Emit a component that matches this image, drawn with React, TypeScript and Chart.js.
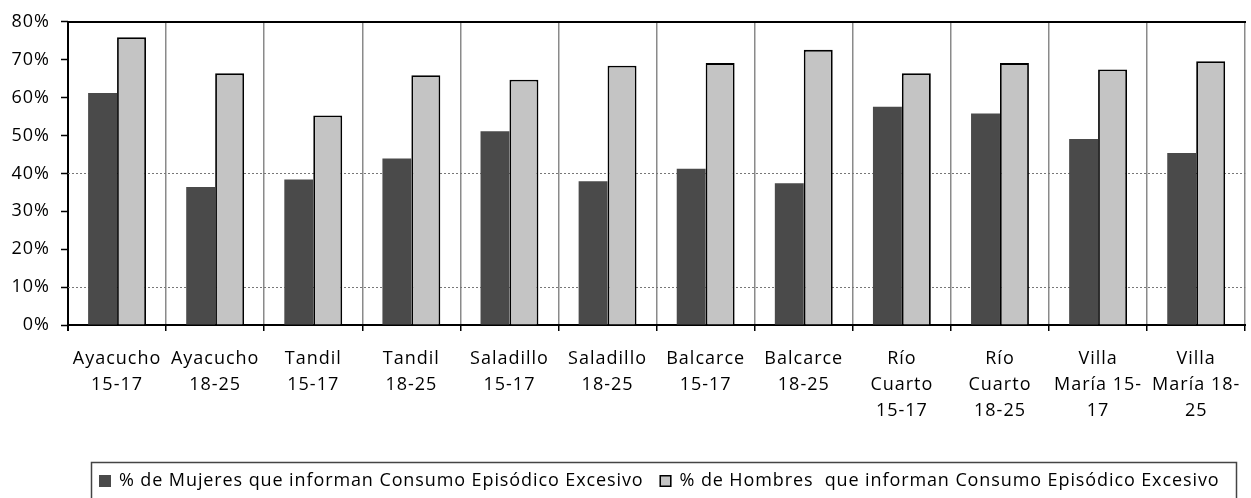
import { useEffect, useRef } from "react";
import { Chart, registerables } from "chart.js";

Chart.register(...registerables);

const categories: string[][] = [
  ["Ayacucho", "15-17"],
  ["Ayacucho", "18-25"],
  ["Tandil", "15-17"],
  ["Tandil", "18-25"],
  ["Saladillo", "15-17"],
  ["Saladillo", "18-25"],
  ["Balcarce", "15-17"],
  ["Balcarce", "18-25"],
  ["Río", "Cuarto", "15-17"],
  ["Río", "Cuarto", "18-25"],
  ["Villa", "María 15-", "17"],
  ["Villa", "María 18-", "25"],
];

const mujeres = [61.2, 36.4, 38.4, 43.9, 51.1, 37.9, 41.2, 37.4, 57.6, 55.8, 49.1, 45.4];
const hombres = [75.9, 66.4, 55.3, 65.9, 64.7, 68.4, 69.1, 72.6, 66.4, 69.1, 67.4, 69.6];

const seriesLabels = [
  "% de Mujeres que informan Consumo Episódico Excesivo",
  "% de Hombres  que informan Consumo Episódico Excesivo",
];

const yMin = 0;
const yMax = 80;
const yStep = 10;
const dottedGridValues = [10, 40];

const FONT = "'Open Sans', 'Noto Sans', sans-serif";
const FONT_SIZE = 18;
const WOMEN_COLOR = "#4a4a4a";
const MEN_COLOR = "#c4c4c4";

const spacingPlugin = {
  id: "spacing",
  beforeDraw(chart: any) {
    chart.ctx.letterSpacing = "1px";
  },
};

const boxLegendPlugin = {
  id: "boxLegend",
  afterDraw(chart: any) {
    const ctx = chart.ctx as CanvasRenderingContext2D;
    ctx.save();
    ctx.letterSpacing = "0.9px";
    ctx.font = `${FONT_SIZE}px ${FONT}`;
    ctx.strokeStyle = "#444";
    ctx.lineWidth = 1.5;
    ctx.strokeRect(91.5, 462.5, 1145, 60);
    let x = 99;
    const y = 481;
    chart.data.datasets.forEach((ds: any, i: number) => {
      ctx.fillStyle = ds.backgroundColor;
      ctx.fillRect(x, y - 6, 12, 12);
      if (i === 1) {
        ctx.strokeStyle = "#000";
        ctx.lineWidth = 1.5;
        ctx.strokeRect(x + 0.75, y - 5.25, 10.5, 10.5);
      }
      ctx.fillStyle = "#000";
      ctx.textBaseline = "middle";
      ctx.textAlign = "left";
      const tx = x + 20;
      ctx.fillText(ds.label, tx, y);
      x = tx + ctx.measureText(ds.label).width + 16;
    });
    ctx.restore();
  },
};

export default function App() {
  const ref = useRef<HTMLCanvasElement | null>(null);

  useEffect(() => {
    document.body.style.margin = "0";
    if (!ref.current) return;
    const chart = new Chart(ref.current, {
      type: "bar",
      data: {
        labels: categories,
        datasets: [
          {
            label: seriesLabels[0],
            data: mujeres,
            backgroundColor: WOMEN_COLOR,
            borderWidth: 0,
          },
          {
            label: seriesLabels[1],
            data: hombres,
            backgroundColor: MEN_COLOR,
            borderColor: "#000",
            borderWidth: 1.8,
          },
        ],
      },
      options: {
        responsive: false,
        animation: false,
        datasets: {
          bar: {
            categoryPercentage: 0.59,
            barPercentage: 1,
          },
        },
        layout: { padding: { left: 0, right: 0, top: 21, bottom: 73 } },
        plugins: {
          legend: { display: false },
          tooltip: { enabled: false },
        },
        scales: {
          x: {
            offset: true,
            grid: {
              offset: true,
              color: (c: any) => (c.index === 0 ? "#000" : "#8a8a8a"),
              lineWidth: (c: any) => (c.index === 0 ? 2 : 1.5),
              tickColor: "#000",
              tickLength: 6,
              drawTicks: true,
            },
            border: { color: "#000", width: 2 },
            ticks: {
              color: "#000",
              font: { family: FONT, size: FONT_SIZE, lineHeight: "26px" },
              padding: 15,
              maxRotation: 0,
              autoSkip: false,
            },
            afterFit: (s: any) => {
              s.height = 100;
            },
          },
          xTop: {
            type: "category",
            position: "top",
            grid: { display: false, drawTicks: false },
            ticks: { display: false },
            border: { color: "#000", width: 2 },
            afterFit: (s: any) => {
              s.height = 0;
            },
          },
          y: {
            min: yMin,
            max: yMax,
            ticks: {
              stepSize: yStep,
              color: "#000",
              font: { family: FONT, size: FONT_SIZE },
              padding: 11,
              callback: (v: any) => `${v}%`,
            },
            grid: {
              color: (c: any) =>
                c.tick && dottedGridValues.includes(c.tick.value) ? "#777" : "rgba(0,0,0,0)",
              lineWidth: 1,
              tickColor: "#000",
              tickLength: 7,
              tickWidth: 1.5,
              drawTicks: true,
            },
            border: { display: false, dash: [2, 2] },
            afterFit: (s: any) => {
              s.width = 68;
            },
          },
        },
      } as any,
      plugins: [spacingPlugin, boxLegendPlugin],
    });
    return () => chart.destroy();
  }, []);

  return <canvas ref={ref} width={1251} height={498} style={{ display: "block" }} />;
}
